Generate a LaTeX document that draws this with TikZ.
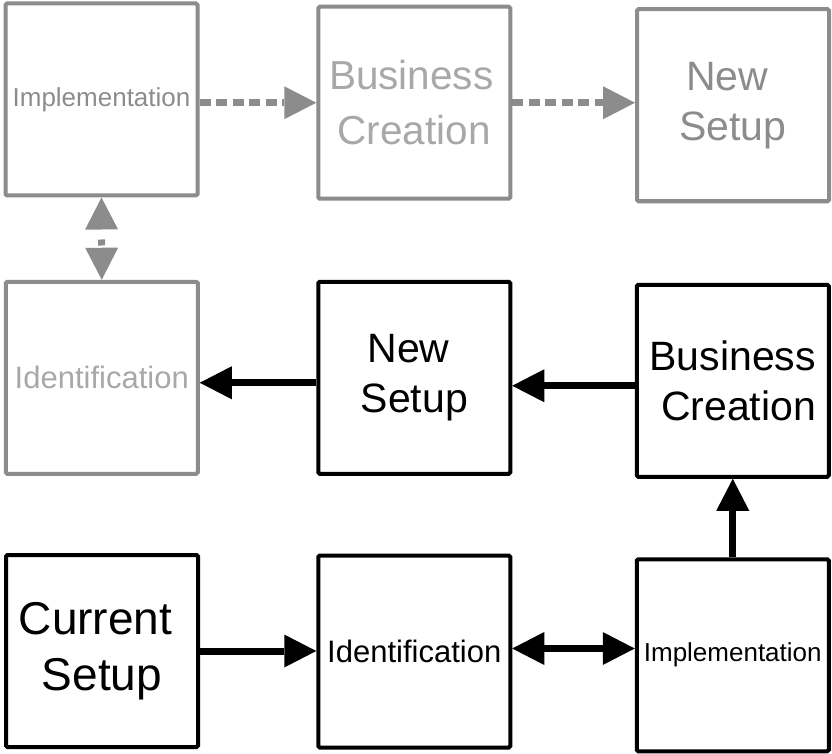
\documentclass[tikz,border=0pt]{standalone}
\usepackage{fontspec}
\setmainfont{Liberation Sans}
\usetikzlibrary{arrows.meta}
\definecolor{linegray}{HTML}{8C8C8C}
\definecolor{palegray}{HTML}{A8A8A8}
\newcommand{\hugefont}{\fontsize{46}{56}\selectfont}
\newcommand{\bigfont}{\fontsize{41}{50}\selectfont}
\newcommand{\midfont}{\fontsize{31}{37}\selectfont}
\newcommand{\smallfont}{\fontsize{26}{31}\selectfont}
\begin{document}
\begin{tikzpicture}[x=1pt,y=-1pt,
  >={Triangle[length=32pt,width=33pt,line width=0pt]},
  box/.style={draw, line width=4pt, minimum width=192pt, minimum height=192pt,
    inner sep=0pt, align=center, rounded corners=1.5pt},
  live/.style={box, draw=black, text=black},
  ghost/.style={box, draw=linegray},
  flow/.style={line width=7pt, ->},
  dashflow/.style={flow, draw=linegray, dash pattern=on 11pt off 5.5pt}]
\useasboundingbox (0,0) rectangle (832,754);

% faded stages
\node[ghost, text=linegray, font=\smallfont] (gImpl) at (101.5,99.5) {Implementation};
\node[ghost, text=palegray, font=\fontsize{40.5}{55}\selectfont] (gBiz) at (414.25,102.75) {Business\kern0.15em\\Creation};
\node[ghost, text=linegray, font=\bigfont] (gNew) at (733,105.25) {New\kern0.28em\\Setup};
\node[ghost, text=palegray, font=\midfont] (gIdent) at (101.75,377.75) {Identification};

% active stages
\node[live, font=\bigfont] (bNew) at (414.25,377.75) {New\kern0.28em\\Setup};
\node[live, font=\bigfont] (bBiz) at (732.75,380.75) {Business\\\kern0.28em Creation};
\node[live, font=\hugefont] (bCur) at (102,651) {Current\kern0.28em\\Setup};
\node[live, font=\midfont] (bIdent) at (414.25,651.5) {Identification};
\node[live, font=\smallfont] (bImpl) at (732.75,655.25) {Implementation};

% helper points for offset connectors
\coordinate (newOut) at ([yshift=-5pt]bNew.west);
\coordinate (bizOut) at ([yshift=-5pt]bBiz.west);
\coordinate (identOut) at ([yshift=3pt]bIdent.east);

% faded connectors
\draw[dashflow] (gImpl.east |- gBiz.west) -- (gBiz.west);
\draw[dashflow] (gBiz.east) -- (gBiz.east -| gNew.west);
\draw[line width=7pt, draw=linegray, <->, dash pattern=on 0pt off 10pt on 6pt off 40pt]
  (gImpl.south) -- (gIdent.north);

% active connectors
\draw[flow] (newOut) -- (newOut -| gIdent.east);
\draw[flow] (bizOut) -- (bizOut -| bNew.east);
\draw[flow] (bImpl.north) -- (bBiz.south);
\draw[flow] (bCur.east) -- (bCur.east -| bIdent.west);
\draw[flow, <->] (identOut) -- (identOut -| bImpl.west);
\end{tikzpicture}
\end{document}
